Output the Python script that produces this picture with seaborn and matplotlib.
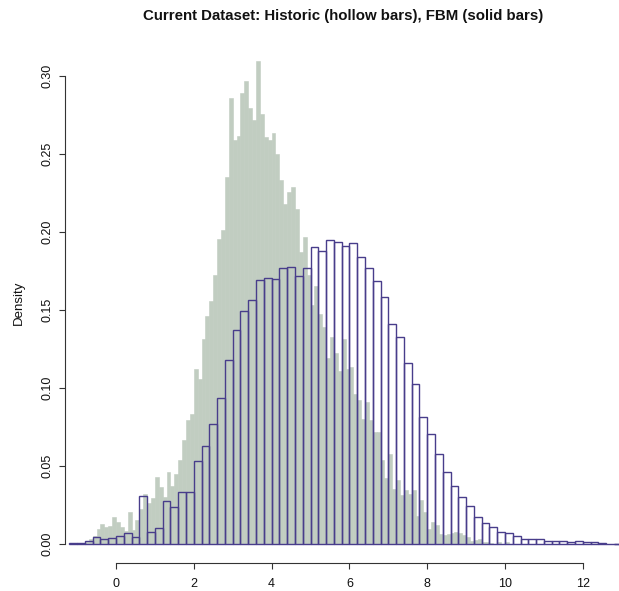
import numpy as np
import pandas as pd
import matplotlib
matplotlib.use("Agg")
import matplotlib.pyplot as plt
import seaborn as sns

# histogram layouts (left edge of first bin, bin width)
FBM_START, FBM_WIDTH = -0.8, 0.1
HIST_START, HIST_WIDTH = -1.2, 0.2

# FBM densities, one value per 0.1 bin starting at -0.8
fbm_density = [
    0.0012, 0.0030, 0.0050, 0.0094, 0.0126, 0.0105, 0.0111, 0.0169,
    0.0137, 0.0105, 0.0083, 0.0201, 0.0088, 0.0152, 0.0220, 0.0318,
    0.0259, 0.0293, 0.0426, 0.0363, 0.0300, 0.0461, 0.0370, 0.0449,
    0.0537, 0.0665, 0.0791, 0.0830, 0.1118, 0.1056, 0.1314, 0.1461,
    0.1555, 0.1722, 0.1952, 0.2013, 0.2353, 0.2854, 0.2588, 0.2613,
    0.2892, 0.2964, 0.2794, 0.2713, 0.3094, 0.2754, 0.2607, 0.2586,
    0.2633, 0.2501, 0.2331, 0.2176, 0.2256, 0.2287, 0.2148, 0.1870,
    0.1964, 0.1725, 0.1530, 0.1651, 0.1470, 0.1390, 0.1190, 0.1327,
    0.1220, 0.1107, 0.1312, 0.1120, 0.1135, 0.0958, 0.0921, 0.0800,
    0.0905, 0.0795, 0.0713, 0.0717, 0.0537, 0.0419, 0.0574, 0.0353,
    0.0408, 0.0312, 0.0344, 0.0318, 0.0344, 0.0179, 0.0280, 0.0205,
    0.0094, 0.0141, 0.0118, 0.0062, 0.0058, 0.0062, 0.0070, 0.0072,
    0.0066, 0.0056, 0.0041, 0.0019, 0.0023, 0.0030, 0.0011, 0.0009,
    0.0007, 0.0000, 0.0009, 0.0000, 0.0009,
]

# Historic densities, one value per 0.2 bin starting at -1.2
historic_density = [
    0.0005, 0.0005, 0.0020, 0.0040, 0.0028, 0.0035, 0.0051, 0.0067,
    0.0041, 0.0306, 0.0073, 0.0103, 0.0276, 0.0237, 0.0330, 0.0330,
    0.0528, 0.0628, 0.0769, 0.0936, 0.1175, 0.1368, 0.1492, 0.1560,
    0.1692, 0.1703, 0.1697, 0.1769, 0.1776, 0.1714, 0.1769, 0.1904,
    0.1878, 0.1949, 0.1932, 0.1906, 0.1926, 0.1838, 0.1769, 0.1684,
    0.1583, 0.1410, 0.1325, 0.1156, 0.1024, 0.0812, 0.0705, 0.0577,
    0.0458, 0.0368, 0.0297, 0.0244, 0.0173, 0.0133, 0.0107, 0.0077,
    0.0067, 0.0049, 0.0032, 0.0032, 0.0032, 0.0019, 0.0019, 0.0015,
    0.0009, 0.0015, 0.0009, 0.0009, 0.0006, 0.0000, 0.0000,
]

TITLE = "Current Dataset: Historic (hollow bars), FBM (solid bars)"
x_ticks = [0, 2, 4, 6, 8, 10, 12]
y_ticks = [0.00, 0.05, 0.10, 0.15, 0.20, 0.25, 0.30]
y_tick_labels = ["0.00", "0.05", "0.10", "0.15", "0.20", "0.25", "0.30"]

FBM_COLOR = "#C1CDC1"   # honeydew3
HIST_COLOR = "#483D8B"  # darkslateblue


def make_bins(start, width, values):
    """Bin edges and a frame of (center, weight) for pre-binned densities."""
    edges = np.round(start + width * np.arange(len(values) + 1), 3)
    centers = (edges[:-1] + edges[1:]) / 2
    return edges.tolist(), pd.DataFrame({"x": centers, "density": values})


def main():
    sns.set_style("white")
    plt.rcParams["font.family"] = ["Liberation Sans", "DejaVu Sans"]

    fbm_edges, fbm_df = make_bins(FBM_START, FBM_WIDTH, fbm_density)
    hist_edges, hist_df = make_bins(HIST_START, HIST_WIDTH, historic_density)

    fig = plt.figure(figsize=(6.19, 5.91), dpi=100)
    ax = fig.add_axes([65 / 619, 1 - 563 / 591, 554 / 619, (563 - 41.7) / 591])

    # solid bars first, hollow bars on top
    sns.histplot(data=fbm_df, x="x", weights="density", bins=fbm_edges,
                 stat="count", color=FBM_COLOR, edgecolor=FBM_COLOR,
                 linewidth=0.4, alpha=1, ax=ax)
    sns.histplot(data=hist_df, x="x", weights="density", bins=hist_edges,
                 stat="count", fill=False, color=HIST_COLOR,
                 linewidth=1.0, ax=ax)

    ax.set_xlim(-1.311, 12.93)
    ax.set_ylim(-0.0124, 0.3218)

    for side in ["top", "right"]:
        ax.spines[side].set_visible(False)
    ax.spines["left"].set_bounds(0, 0.30)
    ax.spines["bottom"].set_bounds(0, 12)
    for side in ["left", "bottom"]:
        ax.spines[side].set_color("#333333")
        ax.spines[side].set_linewidth(0.8)

    ax.set_xticks(x_ticks)
    ax.set_xticklabels([str(t) for t in x_ticks])
    ax.set_yticks(y_ticks)
    ax.set_yticklabels(y_tick_labels, rotation=90, va="center")
    ax.tick_params(axis="both", direction="out", length=4.5, width=0.8,
                   color="#333333", labelsize=9, labelcolor="#111111",
                   bottom=True, left=True)
    ax.tick_params(axis="x", pad=6.5)
    ax.tick_params(axis="y", pad=4)

    ax.set_xlabel("")
    ax.set_ylabel("Density", fontsize=9.5, color="#111111")
    ax.yaxis.set_label_coords(-0.072, 0.5)

    fig.text(343 / 619, 1 - 16 / 591, TITLE, ha="center", va="center",
             fontsize=10.8, fontweight="bold", color="#111111")

    fig.savefig("out.png", dpi=100)


if __name__ == "__main__":
    main()
